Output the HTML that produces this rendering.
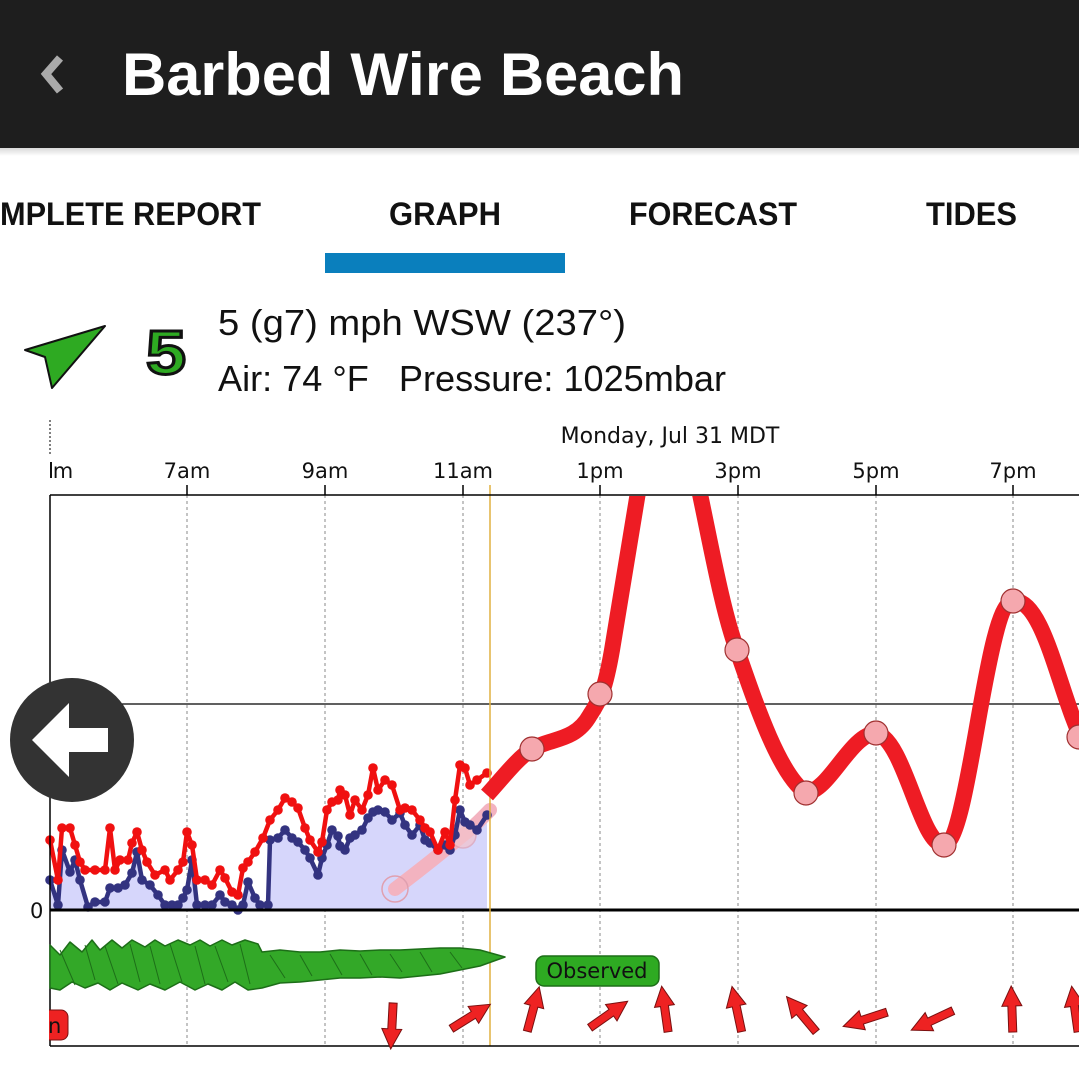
<!DOCTYPE html>
<html><head><meta charset="utf-8"><style>html,body{margin:0;padding:0;background:#fff}svg{display:block}</style></head>
<body>
<svg width="1079" height="1073" viewBox="0 0 1079 1073" xmlns="http://www.w3.org/2000/svg" font-family="Liberation Sans, DejaVu Sans, sans-serif">
<defs>
<marker id="rd" markerWidth="10" markerHeight="10" refX="5" refY="5" markerUnits="userSpaceOnUse"><circle cx="5" cy="5" r="4.8" fill="#f01010"/></marker>
<marker id="bd" markerWidth="10" markerHeight="10" refX="5" refY="5" markerUnits="userSpaceOnUse"><circle cx="5" cy="5" r="4.8" fill="#333380"/></marker>
<linearGradient id="sh" x1="0" y1="0" x2="0" y2="1"><stop offset="0" stop-color="#000" stop-opacity="0.15"/><stop offset="1" stop-color="#000" stop-opacity="0"/></linearGradient>
<clipPath id="plot"><rect x="50" y="496" width="1029" height="550"/></clipPath>
<g id="arr"><polygon points="-4,22 4,22 4,-4 10,-4 0,-24 -10,-4 -4,-4" fill="#ee2222" stroke="#7a1010" stroke-width="1"/></g>
</defs>
<rect x="0" y="0" width="1079" height="148" fill="#1e1e1e"/>
<rect x="0" y="148" width="1079" height="8" fill="url(#sh)"/>
<polyline points="60,58 46,74 60,91" fill="none" stroke="#aaa" stroke-width="8"/>
<text x="122" y="95" font-size="60" font-weight="bold" fill="#fff" textLength="562" lengthAdjust="spacingAndGlyphs">Barbed Wire Beach</text>
<g font-size="32" font-weight="bold" fill="#111">
<text x="0" y="225" textLength="261" lengthAdjust="spacingAndGlyphs">MPLETE REPORT</text>
<text x="389" y="225" textLength="112" lengthAdjust="spacingAndGlyphs">GRAPH</text>
<text x="629" y="225" textLength="168" lengthAdjust="spacingAndGlyphs">FORECAST</text>
<text x="926" y="225" textLength="91" lengthAdjust="spacingAndGlyphs">TIDES</text>
</g>
<rect x="325" y="253" width="240" height="20" fill="#0a7fbd"/>
<polygon points="105,326 25,350 45,357 52,388" fill="#2eaa22" stroke="#111" stroke-width="2" stroke-linejoin="round"/>
<text x="146" y="374" font-size="62" font-weight="bold" fill="#2eaa22" stroke="#111" stroke-width="3" textLength="40" lengthAdjust="spacingAndGlyphs">5</text>
<text x="218" y="335" font-size="36" fill="#111" textLength="408" lengthAdjust="spacingAndGlyphs">5 (g7) mph WSW (237°)</text>
<text x="218" y="391" font-size="36" fill="#111" textLength="508" lengthAdjust="spacingAndGlyphs" xml:space="preserve">Air: 74 °F   Pressure: 1025mbar</text>

<line x1="50" y1="420" x2="50" y2="455" stroke="#000" stroke-dasharray="2,2"/>
<text x="670" y="443" font-size="22" text-anchor="middle" fill="#111" font-family="DejaVu Sans, sans-serif">Monday, Jul 31 MDT</text>
<g font-size="21" fill="#111" text-anchor="middle" font-family="DejaVu Sans, sans-serif">
<text x="187" y="478">7am</text><text x="325" y="478">9am</text><text x="463" y="478">11am</text><text x="600" y="478">1pm</text><text x="738" y="478">3pm</text><text x="876" y="478">5pm</text><text x="1013" y="478">7pm</text><text x="63" y="478">m</text>
</g>
<line x1="51" y1="462" x2="51" y2="478" stroke="#111" stroke-width="2"/>
<g stroke="#888" stroke-dasharray="3,3" stroke-width="1">
<line x1="187" y1="495" x2="187" y2="1046"/><line x1="325" y1="495" x2="325" y2="1046"/><line x1="463" y1="495" x2="463" y2="1046"/><line x1="600" y1="495" x2="600" y2="1046"/><line x1="738" y1="495" x2="738" y2="1046"/><line x1="876" y1="495" x2="876" y2="1046"/><line x1="1013" y1="495" x2="1013" y2="1046"/>
</g>
<g stroke="#000" stroke-width="1.5">
<line x1="187" y1="485" x2="187" y2="495"/><line x1="325" y1="485" x2="325" y2="495"/><line x1="463" y1="485" x2="463" y2="495"/><line x1="600" y1="485" x2="600" y2="495"/><line x1="738" y1="485" x2="738" y2="495"/><line x1="876" y1="485" x2="876" y2="495"/><line x1="1013" y1="485" x2="1013" y2="495"/>
</g>
<line x1="50" y1="704" x2="1079" y2="704" stroke="#000" stroke-width="1.2"/>

<polygon points="50,880 58,905 62,850 70,872 75,860 80,880 88,907 95,902 105,902 110,888 118,888 125,885 132,873 137,852 142,880 150,885 158,895 165,905 172,905 178,905 183,898 187,890 192,860 197,905 205,905 212,905 220,895 225,902 232,905 238,910 243,905 248,882 255,898 260,905 268,905 270,840 278,838 285,830 292,838 298,842 305,850 310,858 318,875 322,858 327,845 332,830 338,836 340,846 345,850 350,838 355,835 362,830 368,818 373,812 378,810 385,812 392,820 400,813 405,825 412,835 420,825 425,840 430,843 438,850 445,845 450,850 455,835 460,810 465,822 470,825 477,830 487,815 487,910 50,910" fill="#d6d6fb"/>
<path d="M395,889 C420,870 445,850 463,835 C475,826 482,818 490,810" fill="none" stroke="#f3b3c0" stroke-width="14" stroke-linecap="round"/>
<circle cx="395" cy="889" r="13" fill="none" stroke="#e0a0b0" stroke-width="1.5"/>
<circle cx="463" cy="835" r="13" fill="#f3c3cc" stroke="#e0a0b0" stroke-width="1.5" opacity="0.7"/>
<polyline points="50,880 58,905 62,850 70,872 75,860 80,880 88,907 95,902 105,902 110,888 118,888 125,885 132,873 137,852 142,880 150,885 158,895 165,905 172,905 178,905 183,898 187,890 192,860 197,905 205,905 212,905 220,895 225,902 232,905 238,910 243,905 248,882 255,898 260,905 268,905 270,840 278,838 285,830 292,838 298,842 305,850 310,858 318,875 322,858 327,845 332,830 338,836 340,846 345,850 350,838 355,835 362,830 368,818 373,812 378,810 385,812 392,820 400,813 405,825 412,835 420,825 425,840 430,843 438,850 445,845 450,850 455,835 460,810 465,822 470,825 477,830 487,815" fill="none" stroke="#333380" stroke-width="4.5" stroke-linejoin="round" marker-start="url(#bd)" marker-mid="url(#bd)" marker-end="url(#bd)"/>
<polyline points="50,840 58,880 62,828 70,828 75,845 80,862 85,870 95,870 105,870 110,828 115,870 120,860 128,860 132,843 137,832 142,850 147,862 155,875 165,870 170,880 178,870 183,862 187,832 192,845 197,880 205,880 212,885 220,870 225,878 232,892 238,895 243,868 248,862 255,852 263,838 270,820 278,810 285,798 292,802 298,808 305,828 310,840 318,852 322,842 327,810 332,802 338,800 340,790 345,795 350,815 355,800 362,810 368,795 373,768 378,790 385,780 392,785 400,810 405,808 412,810 420,820 425,828 430,832 438,850 445,832 450,845 455,800 460,765 465,768 470,785 477,780 487,773" fill="none" stroke="#f01010" stroke-width="4.5" stroke-linejoin="round" marker-start="url(#rd)" marker-mid="url(#rd)" marker-end="url(#rd)"/>

<line x1="50" y1="910" x2="1079" y2="910" stroke="#000" stroke-width="3"/>
<text x="30" y="918" font-size="21" fill="#111" font-family="DejaVu Sans, sans-serif">0</text>
<line x1="490" y1="485" x2="490" y2="1046" stroke="#e0b040" stroke-width="1.5"/>

<g clip-path="url(#plot)">
<path d="M487,795 C505,775 518,758 532,749 C550,738 575,742 590,715 C600,700 605,690 612,650 C622,590 632,530 640,480 M697,480 C710,540 722,610 737,650 C757,708 780,775 806,793 C830,790 850,735 876,733 C905,740 920,845 944,845 C970,840 985,605 1013,601 C1045,598 1060,700 1085,745" fill="none" stroke="#ee1c24" stroke-width="16"/>
<g fill="#f5a8ae" stroke="#a03030" stroke-width="1.2">
<circle cx="532" cy="749" r="12"/><circle cx="600" cy="694" r="12"/><circle cx="737" cy="650" r="12"/><circle cx="806" cy="793" r="12"/><circle cx="876" cy="733" r="12"/><circle cx="944" cy="845" r="12"/><circle cx="1013" cy="601" r="12"/><circle cx="1079" cy="737" r="12"/>
</g>
</g>
<line x1="50" y1="495" x2="1079" y2="495" stroke="#000" stroke-width="1.5"/>
<line x1="50" y1="495" x2="50" y2="1046" stroke="#000" stroke-width="1.5"/>
<line x1="50" y1="1046" x2="1079" y2="1046" stroke="#000" stroke-width="1.5"/>

<polygon points="50,945 60,955 70,942 82,952 92,940 100,950 112,940 122,948 132,940 145,947 155,940 165,946 178,940 190,945 200,940 210,946 222,940 232,945 245,940 258,944 262,952 280,950 300,952 320,952 340,950 360,951 380,950 400,950 420,949 440,948 460,948 480,950 505,957 480,966 460,970 440,974 420,976 400,978 380,977 360,978 340,978 320,980 300,982 280,983 262,988 248,990 235,982 222,990 208,984 195,990 180,982 165,990 150,984 138,990 122,983 110,990 98,983 85,988 72,982 60,990 50,988" fill="#33a828" stroke="#1d6e18" stroke-width="1.5" stroke-linejoin="round"/>
<g stroke="#1d6e18" stroke-width="1" fill="none">
<path d="M60,950 L75,985 M85,945 L95,980 M105,946 L118,984 M130,944 L140,982 M150,946 L160,984 M170,944 L182,982 M195,946 L205,984 M215,946 L228,982 M240,944 L250,984 M270,955 L285,978 M300,955 L312,976 M330,954 L342,975 M360,954 L372,975 M390,954 L402,972 M420,952 L432,972 M450,952 L462,968"/>
</g>
<rect x="536" y="956" width="123" height="30" rx="8" fill="#2eaa22" stroke="#1d6e18" stroke-width="1.5"/>
<text x="597" y="978" font-size="21" text-anchor="middle" fill="#111" font-family="DejaVu Sans, sans-serif">Observed</text>
<rect x="30" y="1010" width="38" height="30" rx="7" fill="#ee2222" stroke="#7a1010"/>
<text x="48" y="1033" font-size="21" fill="#111" font-family="DejaVu Sans, sans-serif">n</text>
<rect x="0" y="1000" width="49" height="45" fill="#fff"/>

<use href="#arr" transform="translate(392,1025) rotate(183)"/>
<use href="#arr" transform="translate(470,1017) rotate(58)"/>
<use href="#arr" transform="translate(533,1010) rotate(15)"/>
<use href="#arr" transform="translate(608,1015) rotate(55)"/>
<use href="#arr" transform="translate(665,1010) rotate(-8)"/>
<use href="#arr" transform="translate(737,1010) rotate(-12)"/>
<use href="#arr" transform="translate(802,1015) rotate(-40)"/>
<use href="#arr" transform="translate(866,1019) rotate(-108)"/>
<use href="#arr" transform="translate(933,1020) rotate(-115)"/>
<use href="#arr" transform="translate(1012,1010) rotate(-2)"/>
<use href="#arr" transform="translate(1075,1010) rotate(-8)"/>

<circle cx="72" cy="740" r="62" fill="#333"/>
<polygon points="32,740 69,703 69,728 108,728 108,752 69,752 69,777" fill="#fff"/>
</svg>
</body></html>
